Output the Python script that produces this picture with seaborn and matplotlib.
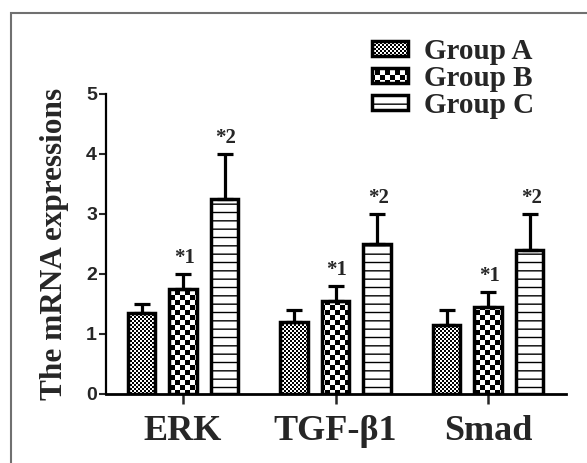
import numpy as np
import pandas as pd
import matplotlib
matplotlib.use('Agg')
import matplotlib.pyplot as plt
import matplotlib.hatch as mhatch
from matplotlib.path import Path
from matplotlib.patches import Rectangle
import seaborn as sns

genes = ['ERK', 'TGF-β1', 'Smad']
groups = ['Group A', 'Group B', 'Group C']
group_a = [1.35, 1.20, 1.15]
group_b = [1.75, 1.55, 1.45]
group_c = [3.25, 2.50, 2.40]
err_a = [0.15, 0.20, 0.25]
err_b = [0.25, 0.25, 0.25]
err_c = [0.75, 0.50, 0.60]
marks = ['', '*1', '*2']

HATCH_LW = 1.0


# checkerboard hatch, takes the place of the star hatch ('*')
class CheckerHatch(mhatch.HatchPatternBase):
    def __init__(self, hatch, density):
        count = hatch.count('*')
        self.n = 10 * count
        self.num_vertices = (self.n * self.n // 2) * 5 if count else 0

    def set_vertices_and_codes(self, vertices, codes):
        s = 1.0 / self.n
        d = min(HATCH_LW / 72 / 2, s * 0.45)
        k = 0
        for i in range(self.n):
            for j in range(self.n):
                if (i + j) % 2:
                    continue
                x0, y0 = i * s + d, j * s + d
                x1, y1 = (i + 1) * s - d, (j + 1) * s - d
                vertices[k:k + 5] = [[x0, y0], [x1, y0], [x1, y1], [x0, y1], [x0, y0]]
                codes[k:k + 5] = [Path.MOVETO, Path.LINETO, Path.LINETO, Path.LINETO, Path.CLOSEPOLY]
                k += 5


mhatch._hatch_types = [CheckerHatch if t is mhatch.Stars else t for t in mhatch._hatch_types]

sns.set_style('white')
plt.rcParams['hatch.linewidth'] = HATCH_LW
plt.rcParams['font.family'] = ['Liberation Serif', 'DejaVu Serif']

df = pd.DataFrame({
    'gene': genes * 3,
    'group': [g for g in groups for _ in genes],
    'value': group_a + group_b + group_c,
})
errs = [err_a, err_b, err_c]
means = [group_a, group_b, group_c]
hatches = ['*****', '**', '--']

fig = plt.figure(figsize=(5.87, 4.63), dpi=100)
ax = fig.add_axes([106 / 587, 69 / 463, 460 / 587, 300 / 463])

sns.barplot(data=df, x='gene', y='value', hue='group', order=genes, hue_order=groups,
            palette=['white'] * 3, edgecolor='black', linewidth=2.5,
            width=0.816, gap=0.34, errorbar=None, ax=ax, legend=False)

bar_conts = list(ax.containers)
for gi, cont in enumerate(bar_conts):
    xs = []
    for bar in cont:
        bar.set_hatch(hatches[gi])
        bar.set_edgecolor('black')
        xs.append(bar.get_x() + bar.get_width() / 2)
    ax.errorbar(xs, means[gi], yerr=[np.zeros(len(xs)), errs[gi]], fmt='none',
                ecolor='black', elinewidth=2.3, capsize=5.8, capthick=2.3, zorder=1)
    if marks[gi]:
        for x, m, e in zip(xs, means[gi], errs[gi]):
            ax.annotate(marks[gi], (x, m + e), xytext=(1, 4), textcoords='offset points',
                        ha='center', va='bottom', fontsize=15, fontweight='bold')

ax.set_xlim(-0.505, 2.51)
ax.set_ylim(0, 5)
ax.set_yticks([0, 1, 2, 3, 4, 5])
ax.set_xlabel('')
ax.set_ylabel('The mRNA expressions', fontsize=22.5, fontweight='bold', labelpad=12)
for s in ['top', 'right']:
    ax.spines[s].set_visible(False)
ax.spines['left'].set_linewidth(1.6)
ax.spines['bottom'].set_linewidth(2.0)
ax.spines['left'].set_color('black')
ax.spines['bottom'].set_color('black')
ax.tick_params(axis='y', direction='out', length=5, width=1.5, pad=1.5, left=True)
ax.tick_params(axis='x', direction='out', length=7, width=1.8, pad=8, bottom=True)
for lab in ax.get_yticklabels():
    lab.set_family(['Liberation Sans', 'DejaVu Sans'])
    lab.set_fontweight('bold')
    lab.set_fontsize(14)
for lab in ax.get_xticklabels():
    lab.set_fontweight('bold')
    lab.set_fontsize(26)

handles = [cont.patches[0] for cont in bar_conts]
leg = fig.legend(handles, groups, loc='upper left', bbox_to_anchor=(372 / 587, 1 - 38 / 463),
                 frameon=False, borderpad=0, borderaxespad=0, handlelength=1.25,
                 handleheight=0.45, handletextpad=0.55, labelspacing=0.0,
                 prop={'weight': 'bold', 'size': 21})

# grey frame round the picture
fig.patches.append(Rectangle((11 / 587, -0.1), 1.0, 1 - 13 / 463 + 0.1, transform=fig.transFigure,
                             fill=False, edgecolor='#707070', linewidth=1.5))

fig.savefig('out.png', dpi=100)
